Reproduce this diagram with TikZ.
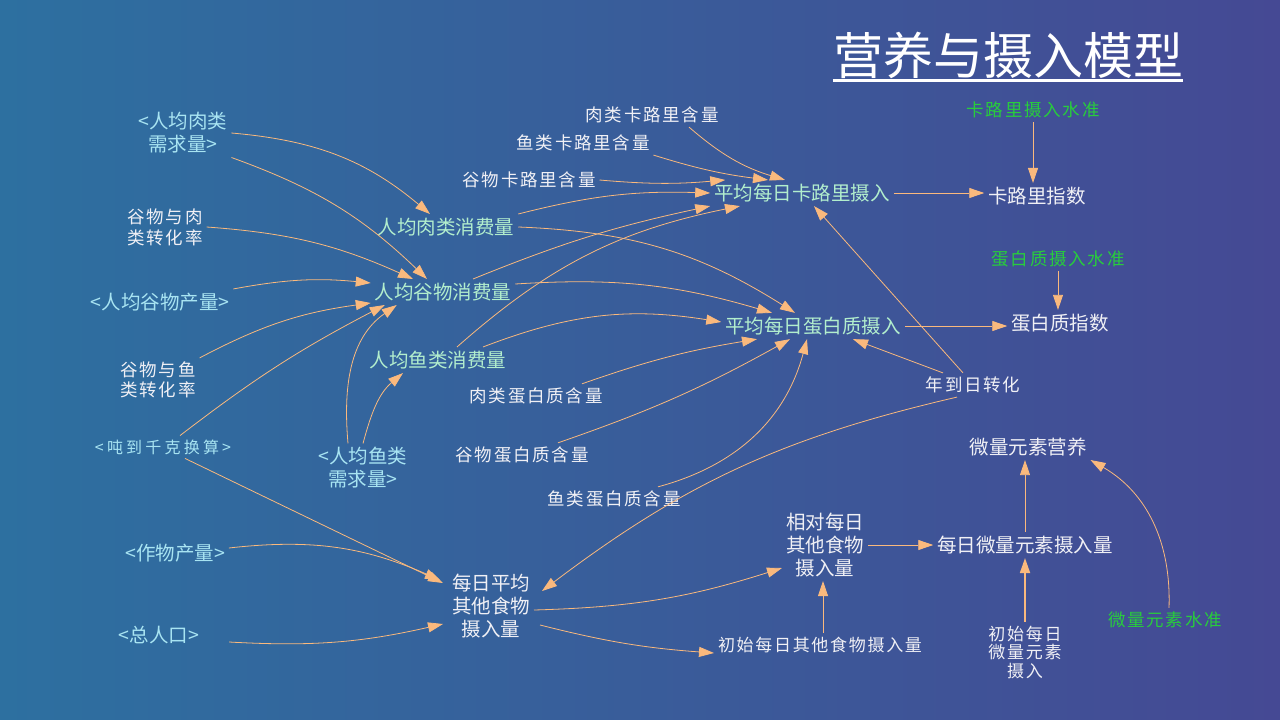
\documentclass[tikz,border=0pt]{standalone}
\usepackage{fontspec}
\newfontfamily\cjk{Noto Sans CJK SC}
\newfontfamily\cjksp[LetterSpace=10]{Noto Sans CJK SC}
\newfontfamily\cjkwide[LetterSpace=20]{Noto Sans CJK SC}
\usetikzlibrary{arrows.meta}
\definecolor{bgL}{RGB}{45,112,160}
\definecolor{bgR}{RGB}{69,73,148}
\definecolor{vargreen}{RGB}{178,238,205}
\definecolor{shadowcyan}{RGB}{168,228,242}
\definecolor{txtwhite}{RGB}{240,240,245}
\definecolor{constgreen}{RGB}{40,205,60}
\definecolor{arrowc}{RGB}{250,185,125}
\tikzset{
 base/.style={inner sep=1pt, outer sep=3pt, align=center},
 var/.style={base, text=vargreen, font=\cjk\fontsize{19.5}{23}\selectfont},
 shadowvar/.style={base, text=shadowcyan, font=\cjk\fontsize{19.5}{23}\selectfont},
 aux/.style={base, text=txtwhite, font=\cjk\fontsize{19.5}{23}\selectfont},
 auxsp/.style={base, text=txtwhite, font=\cjksp\fontsize{17.5}{21}\selectfont},
 constsp/.style={base, text=constgreen, font=\cjksp\fontsize{17.5}{21}\selectfont},
 shadowsp/.style={base, text=shadowcyan, font=\cjkwide\fontsize{16}{20}\selectfont},
 link/.style={draw=arrowc, line width=0.8pt, -{Triangle[length=15pt,width=10pt]}},
}
\begin{document}
\begin{tikzpicture}[x=1pt,y=-1pt]
\useasboundingbox (0,0) rectangle (1280,720);
\shade[left color=bgL, right color=bgR] (0,0) rectangle (1280,720);

% title
\node[font=\cjk\fontsize{50}{56}\selectfont, text=white, inner sep=0pt] (title) at (1008,55) {营养与摄入模型};
\draw[white, line width=3pt] ([yshift=-2pt]title.south west) -- ([yshift=-2pt]title.south east);

% nodes
\node[shadowvar] (A) at (183,133) {<人均肉类\\需求量>};
\node[auxsp, font=\cjksp\fontsize{17.5}{21}\selectfont] (B) at (165,227) {谷物与肉\\类转化率};
\node[shadowvar] (C) at (160,302) {<人均谷物产量>};
\node[auxsp, font=\cjksp\fontsize{17.5}{20}\selectfont] (D) at (158,380) {谷物与鱼\\类转化率};
\node[shadowsp] (E) at (163,447) {<吨到千克换算>};
\node[shadowvar] (F) at (363,468) {<人均鱼类\\需求量>};
\node[shadowvar] (G) at (175,553) {<作物产量>};
\node[shadowvar] (H) at (159,635) {<总人口>};
\node[var] (I) at (446,227) {人均肉类消费量};
\node[var] (J) at (443,292) {人均谷物消费量};
\node[var] (K) at (438,360) {人均鱼类消费量};
\node[auxsp] (L) at (652,115) {肉类卡路里含量};
\node[auxsp] (M) at (583,143) {鱼类卡路里含量};
\node[auxsp] (N) at (529,180) {谷物卡路里含量};
\node[var] (O) at (802,193) {平均每日卡路里摄入};
\node[aux] (P) at (1037,196) {卡路里指数};
\node[constsp] (Q) at (1033,110) {卡路里摄入水准};
\node[constsp] (R) at (1058,259) {蛋白质摄入水准};
\node[aux] (S) at (1060,323) {蛋白质指数};
\node[var] (T) at (813,326) {平均每日蛋白质摄入};
\node[auxsp] (U) at (536,396) {肉类蛋白质含量};
\node[auxsp] (V) at (522,455) {谷物蛋白质含量};
\node[auxsp] (W) at (614,499) {鱼类蛋白质含量};
\node[auxsp] (X) at (973,385) {年到日转化};
\node[aux] (Y) at (1028,447) {微量元素营养};
\node[aux] (Z) at (491,606) {每日平均\\其他食物\\摄入量};
\node[aux] (AA) at (825,545) {相对每日\\其他食物\\摄入量};
\node[aux] (AB) at (1025,545) {每日微量元素摄入量};
\node[auxsp, font=\cjksp\fontsize{17}{19}\selectfont] (AC) at (820,645) {初始每日其他食物摄入量};
\node[auxsp, font=\cjksp\fontsize{17}{18.5}\selectfont] (AD) at (1025,652) {初始每日\\微量元素\\摄入};
\node[constsp] (AE) at (1165,620) {微量元素水准};

% connectors
\draw[link] (A.east) to[out=-5,in=140] ([xshift=-16pt]I.north);
\draw[link] (A.south east) to[bend left=12] ([xshift=-16pt]J.north);
\draw[link] (B.east) to[bend left=10] ([xshift=-30pt]J.north);
\draw[link] (C.north east) to[bend left=8] ([yshift=9pt]J.west);
\draw[link] (D.north east) to[bend left=10] ([yshift=-11pt]J.west);
\draw[link] ([xshift=17pt]E.north) to[bend left=5] ([xshift=14pt]J.south west);
\draw[link] ([xshift=-15pt]F.north) to[out=95,in=215] ([xshift=26pt]J.south west);
\draw[link] (F.north) to[out=75,in=220] ([xshift=-35pt]K.south);
\draw[link] (I.north east) to[bend left=8] (O.west);
\draw[link] ([xshift=30pt]J.north) to[bend left=5] (O.south west);
\draw[link] ([xshift=19pt]K.north) to[bend left=15] ([xshift=-62pt]O.south);
\draw[link] ([xshift=37pt]L.south) to[bend right=12] ([xshift=-17pt]O.north);
\draw[link] (M.south east) to[bend right=5] ([xshift=-34pt]O.north);
\draw[link] (N.east) to[bend right=5] ([xshift=15pt]O.north west);
\draw[link] (O.east) -- (O.east -| P.west);
\draw[link] (Q.south) -- (Q.south |- P.north);
\draw[link] ([xshift=-10pt]X.north) -- ([xshift=12pt]O.south);
\draw[link] (I.east) to[bend left=15] ([xshift=-18pt]T.north);
\draw[link] ([yshift=8pt]J.east) to[bend left=10] ([xshift=-41pt]T.north);
\draw[link] ([xshift=45pt]K.north) to[bend left=15] ([yshift=4pt]T.west);
\draw[link] ([xshift=46pt]U.north) to[bend left=5] ([xshift=-56pt]T.south);
\draw[link] ([xshift=36pt]V.north) to[bend right=5] ([xshift=-23pt]T.south);
\draw[link] ([xshift=44pt]W.north) to[out=15,in=-105] ([xshift=-6pt]T.south);
\draw[link] ([xshift=-30pt]X.north) -- ([xshift=40pt]T.south);
\draw[link] (T.east) -- (T.east -| S.west);
\draw[link] (R.south) -- (R.south |- S.north);
\draw[link] ([xshift=-16pt]X.south) to[bend right=12] ([xshift=8pt,yshift=15pt]Z.east);
\draw[link] ([xshift=22pt]E.south) -- ([xshift=-5pt,yshift=23pt]Z.west);
\draw[link] ([yshift=5pt]G.east) to[bend left=15] ([xshift=-8pt,yshift=26pt]Z.west);
\draw[link] ([xshift=26pt,yshift=-7pt]H.east) to[bend right=8] ([xshift=-5pt,yshift=-18pt]Z.west);
\draw[link] ([yshift=-4pt]Z.east) to[bend right=8] ([yshift=-23pt]AA.west);
\draw[link] ([xshift=6pt,yshift=-19pt]Z.east) to[bend right=5] ([yshift=-8pt]AC.west);
\draw[link] ([xshift=3pt]AC.north) -- ([xshift=3pt]AC.north |- AA.south);
\draw[link] (AA.east) -- (AB.west);
\draw[link, line width=1.8pt] (AD.north) -- (AB.south);
\draw[link] (AB.north) -- (AB.north |- Y.south);
\draw[link] ([xshift=4pt]AE.north) to[out=88,in=-30] ([yshift=-13pt]Y.east);
\end{tikzpicture}
\end{document}
